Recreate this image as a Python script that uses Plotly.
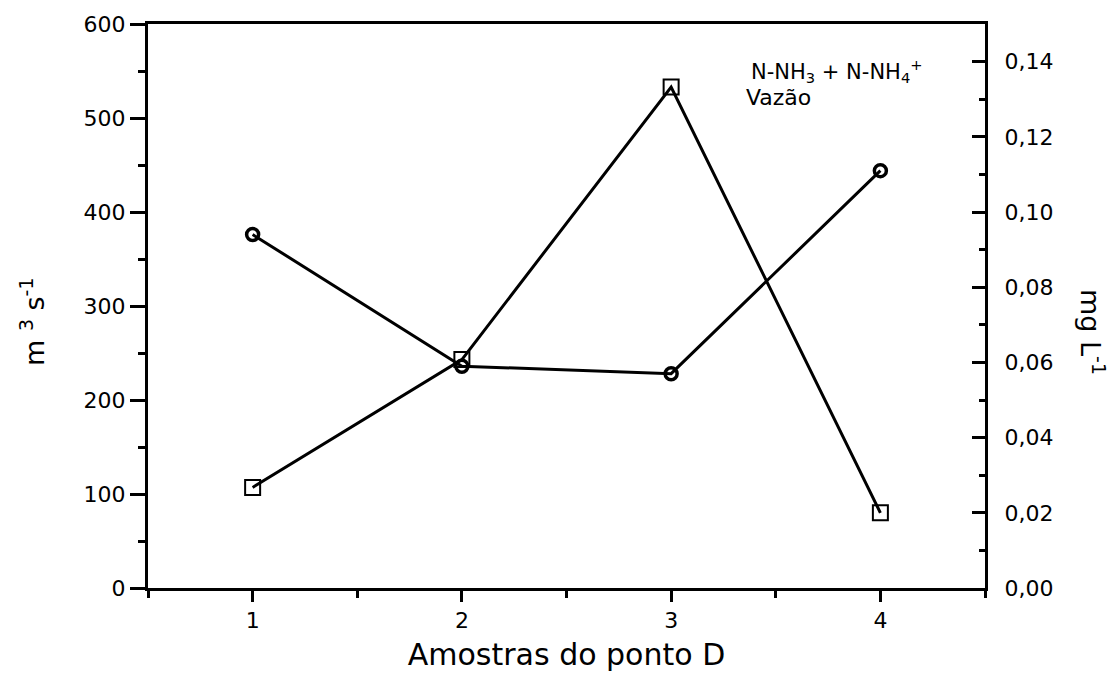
import plotly.graph_objects as go

amostras = [1, 2, 3, 4]
vazao = [107, 243, 533, 80]              # m3 s-1 (left axis), squares
nitrogenio = [0.094, 0.059, 0.057, 0.111]  # mg L-1 (right axis), circles

FONT = "DejaVu Sans, Liberation Sans, Arial, sans-serif"

L, R, T, B = 148, 985, 24, 588
W, H = R - L, B - T

def px(x):
    return (x - L) / W

def py(y):
    return (B - y) / H

fig = go.Figure()
fig.add_trace(go.Scatter(
    x=amostras, y=vazao, name="Vazão", mode="lines+markers",
    line=dict(color="black", width=3),
    marker=dict(symbol="square-open", size=15, color="black", line=dict(width=2)),
    yaxis="y", showlegend=False))
fig.add_trace(go.Scatter(
    x=amostras, y=nitrogenio, name="N-NH3 + N-NH4+", mode="lines+markers",
    line=dict(color="black", width=3),
    marker=dict(symbol="circle-open", size=12, color="black", line=dict(width=3.5)),
    yaxis="y2", showlegend=False))

fig.update_layout(
    width=1117, height=680,
    margin=dict(l=L, r=1117 - R, t=T, b=680 - B),
    paper_bgcolor="white", plot_bgcolor="white",
    separators=", ",
    font=dict(family=FONT, color="black", size=22),
    xaxis=dict(
        range=[0.5, 4.5], tickmode="array", tickvals=amostras, ticktext=["1", "2", "3", "4"],
        showgrid=False, zeroline=False, showline=True, linecolor="black", linewidth=3,
        mirror=True, ticks="outside", ticklen=11, tickwidth=3, tickcolor="black",
        minor=dict(tickmode="linear", tick0=0.5, dtick=0.5, ticks="outside", ticklen=7,
                   tickwidth=3, tickcolor="black", showgrid=False),
        title=dict(text="Amostras do ponto D", font=dict(family=FONT, size=30), standoff=12),
        tickfont=dict(family=FONT, size=22),
    ),
    yaxis=dict(
        range=[0, 600], tickmode="linear", tick0=0, dtick=100,
        showgrid=False, zeroline=False, showline=True, linecolor="black", linewidth=3,
        ticks="outside", ticklen=15, tickwidth=3, tickcolor="black",
        minor=dict(tickmode="linear", tick0=0, dtick=50, ticks="outside", ticklen=7,
                   tickwidth=3, tickcolor="black", showgrid=False),
        tickfont=dict(family=FONT, size=22),
    ),
    yaxis2=dict(
        range=[0, 0.15], overlaying="y", side="right", tickmode="linear", tick0=0, dtick=0.02,
        tickformat=".2f",
        showgrid=False, zeroline=False, showline=True, linecolor="black", linewidth=3,
        ticks="inside", ticklen=13, tickwidth=3, tickcolor="black",
        minor=dict(tickmode="linear", tick0=0, dtick=0.01, ticks="inside", ticklen=6,
                   tickwidth=3, tickcolor="black", showgrid=False),
        tickfont=dict(family=FONT, size=22),
        ticklabelstandoff=12,
    ),
    annotations=[
        dict(text="N-NH<sub>3</sub> + N-NH<sub>4</sub><sup>+</sup>", xref="paper", yref="paper",
             x=px(749), y=py(71), xanchor="left", yanchor="middle",
             showarrow=False, font=dict(family=FONT, size=21)),
        dict(text="Vazão", xref="paper", yref="paper",
             x=px(744), y=py(97), xanchor="left", yanchor="middle",
             showarrow=False, font=dict(family=FONT, size=22)),
        dict(text="m <sup>3</sup> s<sup>-1</sup>", xref="paper", yref="paper",
             x=px(32), y=py(322), xanchor="center", yanchor="middle",
             textangle=-90, showarrow=False, font=dict(family=FONT, size=27)),
        dict(text="mg L<sup>-1</sup>", xref="paper", yref="paper",
             x=px(1093), y=py(332), xanchor="center", yanchor="middle",
             textangle=90, showarrow=False, font=dict(family=FONT, size=27)),
    ],
)

fig.write_html("out.html")
